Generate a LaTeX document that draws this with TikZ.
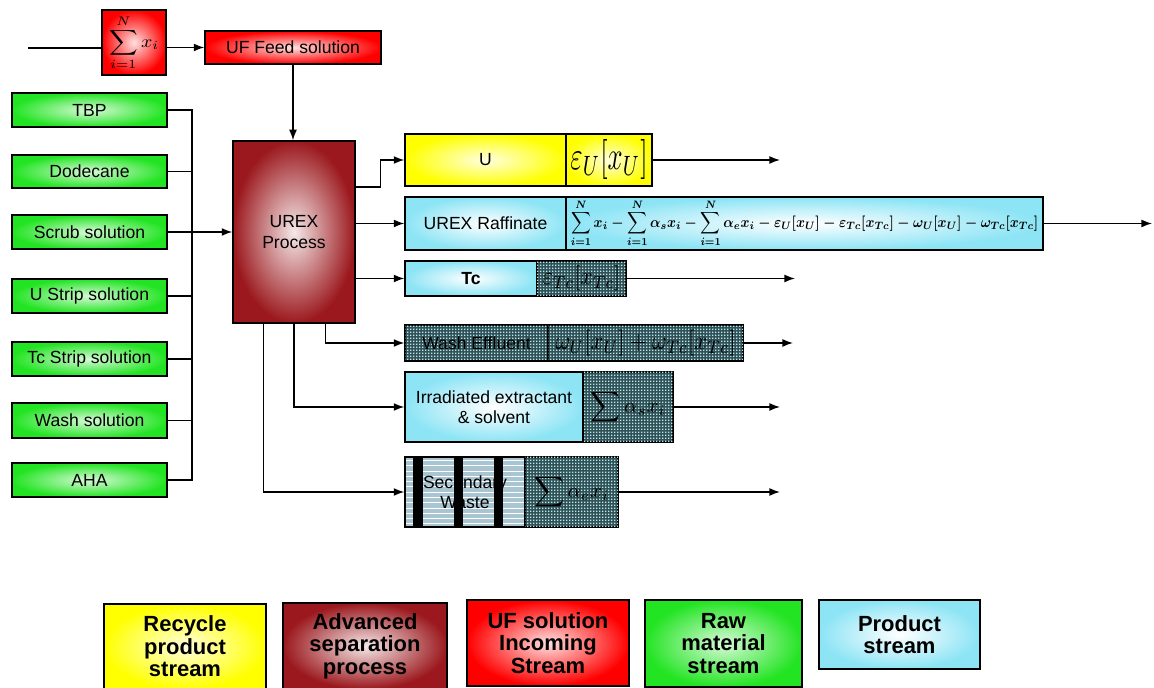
\documentclass[tikz,border=0pt]{standalone}
\usepackage{amsmath}
\usepackage[no-math]{fontspec}
\setmainfont{Liberation Sans}
\usetikzlibrary{arrows.meta,patterns,calc}

\definecolor{ufred}{RGB}{255,0,0}
\definecolor{urexred}{RGB}{155,25,30}
\definecolor{rawgreen}{RGB}{35,228,35}
\definecolor{recyel}{RGB}{255,255,0}
\definecolor{prodcyan}{RGB}{140,228,245}
\definecolor{darktex}{RGB}{50,80,85}
\definecolor{texdot}{RGB}{175,235,240}

% fine dot texture for the dark stream boxes
\pgfdeclarepatternformonly{finedots}{\pgfqpoint{0pt}{0pt}}{\pgfqpoint{1.8pt}{1.8pt}}{\pgfqpoint{1.8pt}{1.8pt}}%
{\pgfpathrectangle{\pgfqpoint{0pt}{0pt}}{\pgfqpoint{1pt}{1pt}}\pgfusepath{fill}}

% box from pixel corners (x1,y1)-(x2,y2)
\newcommand\pbox[7]{\node[#6, minimum width={(#4-#2)*0.02cm}, minimum height={(#5-#3)*0.02cm}] (#1) at ({(#2+#4)/2},{(#3+#5)/2}) {#7};}

\begin{document}
\begin{tikzpicture}[x=0.02cm, y=-0.02cm,
  box/.style={draw=black, line width=0.8pt, inner sep=0pt, align=center,
    font=\fontsize{10}{11.5}\selectfont},
  redbox/.style={box, shade, shading=radial, outer color=ufred, inner color=ufred!12!white},
  urexbox/.style={box, shade, shading=radial, outer color=urexred, inner color=urexred!10!white},
  greenbox/.style={box, shade, shading=radial, outer color=rawgreen, inner color=rawgreen!18!white},
  yellowbox/.style={box, shade, shading=radial, outer color=recyel, inner color=recyel!12!white},
  cyanbox/.style={box, shade, shading=radial, outer color=prodcyan, inner color=white},
  darkbox/.style={box, fill=darktex, postaction={pattern=finedots, pattern color=texdot}},
  legend/.style={font=\fontsize{12.5}{12.8}\selectfont\bfseries},
  arr/.style={line width=0.8pt, -{Latex[length=6pt,width=4.5pt]}},
  ln/.style={line width=0.8pt}]
\useasboundingbox (0,0) rectangle (1154,688);

% feed
\pbox{sum}{102}{10}{166}{75}{redbox}{\resizebox*{1.0cm}{1.1cm}{$\displaystyle\sum_{i=1}^{N} x_i$}}
\pbox{uf}{205}{31}{381}{64}{redbox}{UF Feed solution}
\coordinate (feedin) at (28,48);

% process
\pbox{urex}{233}{141}{355}{323}{urexbox}{UREX\\Process}

% raw materials
\pbox{tbp}{12}{93}{167}{127}{greenbox}{TBP}
\pbox{dod}{12}{155}{167}{188}{greenbox}{Dodecane}
\pbox{scrub}{12}{215}{167}{249}{greenbox}{Scrub solution}
\pbox{ustrip}{12}{279}{167}{313}{greenbox}{U Strip solution}
\pbox{tcstrip}{12}{342}{167}{376}{greenbox}{Tc Strip solution}
\pbox{wash}{12}{403}{167}{438}{greenbox}{Wash solution}
\pbox{aha}{12}{463}{167}{497}{greenbox}{AHA}
\coordinate (bus) at (192,232);

% product streams
\pbox{ubox}{405}{134}{566}{186}{yellowbox}{U}
\pbox{ueps}{566}{134}{652}{186}{yellowbox}{\resizebox*{1.55cm}{0.8cm}{$\varepsilon_U[x_U]$}}

\pbox{raf}{405}{197}{566}{250}{cyanbox}{UREX Raffinate}
\pbox{rafeq}{566}{197}{1043}{250}{cyanbox}{\resizebox*{9.35cm}{0.96cm}{\boldmath$\displaystyle
  \sum_{i=1}^{N} x_i-\sum_{i=1}^{N}\alpha_s x_i-\sum_{i=1}^{N}\alpha_e x_i
  -\varepsilon_U[x_U]-\varepsilon_{Tc}[x_{Tc}]-\omega_U[x_U]-\omega_{Tc}[x_{Tc}]$}}

\pbox{tc}{405}{261}{537}{296}{cyanbox}{\bfseries Tc}
\pbox{tceq}{537}{261}{626}{296}{darkbox}{\resizebox*{1.55cm}{0.5cm}{$\varepsilon_{Tc}[x_{Tc}]$}}

\pbox{weff}{405}{325}{548}{361}{darkbox}{Wash Effluent}
\pbox{weffeq}{548}{325}{743}{361}{darkbox}{\resizebox*{3.6cm}{0.52cm}{$\omega_U[x_U]+\omega_{Tc}[x_{Tc}]$}}

\pbox{irr}{405}{372}{583}{442}{cyanbox}{Irradiated extractant\\\& solvent}
\pbox{irreq}{583}{372}{673}{442}{darkbox}{\resizebox{1.5cm}{!}{$\displaystyle\sum\alpha_s x_i$}}

% secondary waste: striped background
\fill[cyan!35!gray!60] (405,457) rectangle (525,527);
\fill[pattern=horizontal lines, pattern color=white] (405,457) rectangle (525,527);
\fill[black] (413,457) rectangle (423,527);
\fill[black] (454,457) rectangle (463,527);
\fill[black] (494,457) rectangle (503,527);
\pbox{sec}{405}{457}{525}{527}{box}{Secondary\\Waste}
\pbox{seceq}{525}{457}{618}{527}{darkbox}{\resizebox{1.5cm}{!}{$\displaystyle\sum\alpha_e x_i$}}

% free ends of the outgoing streams
\coordinate (endA) at (780,0);
\coordinate (endB) at (1152,0);
\coordinate (endC) at (795,0);
\coordinate (endD) at (793,0);

% connectors: feed
\draw[ln] (feedin) -- (feedin -| sum.west);
\draw[arr] (sum.east |- uf.west) -- (uf.west);
\draw[arr] (uf.south) -- (uf.south |- urex.north);

% connectors: raw materials onto the bus
\draw[ln] (tbp.east) -| (bus);
\draw[ln] (aha.east) -| (bus);
\draw[ln] (dod.east) -- (dod.east -| bus);
\draw[ln] (ustrip.east) -- (ustrip.east -| bus);
\draw[ln] (tcstrip.east) -- (tcstrip.east -| bus);
\draw[ln] (wash.east) -- (wash.east -| bus);
\draw[arr] (scrub.east) -- (urex.west);

% connectors: process outputs
\draw[arr] ($(urex.north east)!0.254!(urex.south east)$) -- ++(25,0) |- (ubox.west);
\draw[arr] (urex.east |- raf.west) -- (raf.west);
\draw[arr] (urex.east |- tc.west) -- (tc.west);
\draw[arr] ($(urex.south west)!0.754!(urex.south east)$) |- (weff.west);
\draw[arr] (urex.south) |- (irr.west);
\draw[arr] ($(urex.south west)!0.254!(urex.south east)$) |- (sec.west);

\draw[arr] (ueps.east) -- (ueps.east -| endA);
\draw[arr] (rafeq.east) -- (rafeq.east -| endB);
\draw[arr] (tceq.east) -- (tceq.east -| endC);
\draw[arr] (weffeq.east) -- (weffeq.east -| endD);
\draw[arr] (irreq.east) -- (irreq.east -| endA);
\draw[arr] (seceq.east) -- (seceq.east -| endA);

% legend
\pbox{lgA}{104}{604}{266}{689}{yellowbox,legend}{Recycle\\product\\stream}
\pbox{lgB}{283}{603}{447}{689}{urexbox,legend}{Advanced\\separation\\process}
\pbox{lgC}{467}{600}{629}{686}{redbox,legend}{UF solution\\Incoming\\Stream}
\pbox{lgD}{645}{600}{802}{687}{greenbox,legend}{Raw\\material\\stream}
\pbox{lgE}{819}{600}{980}{669}{cyanbox,legend}{Product\\stream}
\end{tikzpicture}
\end{document}
